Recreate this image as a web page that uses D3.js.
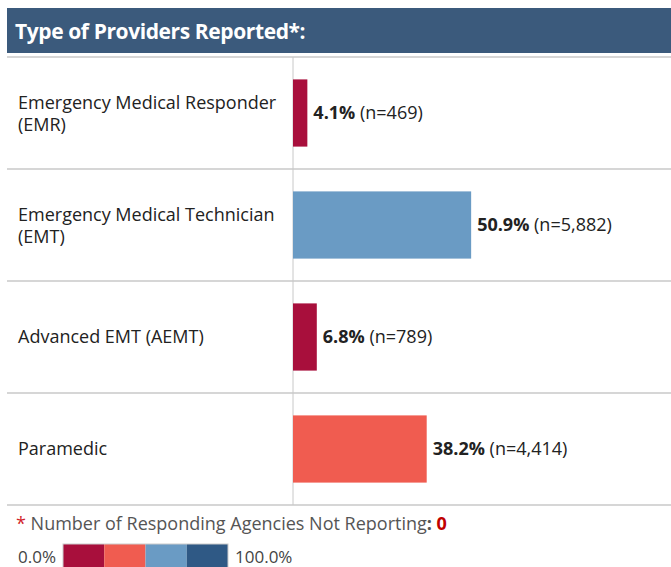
<!DOCTYPE html>
<html>
<head>
<meta charset="utf-8">
<script src="https://cdn.jsdelivr.net/npm/d3@7"></script>
<style>
  body { margin: 0; background: #fff; }
  text { font-family: "Open Sans", "Noto Sans", sans-serif; }
</style>
</head>
<body>
<script>
// data
var categories = ["Emergency Medical Responder (EMR)", "Emergency Medical Technician (EMT)", "Advanced EMT (AEMT)", "Paramedic"];
var labelLines = [["Emergency Medical Responder", "(EMR)"], ["Emergency Medical Technician", "(EMT)"], ["Advanced EMT (AEMT)"], ["Paramedic"]];
var shares = [0.041, 0.509, 0.068, 0.382];
var counts = [469, 5882, 789, 4414];
var barColors = ["#a80f3c", "#6a9bc4", "#a80f3c", "#f05c50"];
var legendColors = ["#a80f3c", "#f05c50", "#6a9bc4", "#2f5985"];
var legendTicks = ["0.0%", "100.0%"];
var notReporting = 0;

var width = 671, height = 567;

var svg = d3.select("body")
            .append("svg")
            .attr("width", width)
            .attr("height", height);

// header
svg.append("rect")
   .attr("x", 7).attr("y", 8)
   .attr("width", width - 7).attr("height", 45)
   .attr("fill", "#3b5a7c");
svg.append("text")
   .attr("x", 15).attr("y", 39)
   .attr("fill", "#fff")
   .style("font-size", "21px")
   .style("font-weight", "bold")
   .style("letter-spacing", "-0.4px")
   .text("Type of Providers Reported*:");

var xScale = d3.scaleLinear()
    .domain([0, 1])
    .range([293, 643]);

var yScale = d3.scaleBand()
    .domain(categories)
    .range([57, 505])
    .paddingInner(0.4)
    .paddingOuter(0.2);

var rowScale = d3.scaleBand()
    .domain(categories)
    .range([57, 505]);

// row separators
var seps = rowScale.domain().map(function(d) { return rowScale(d); }).concat([505]);
svg.append("g")
   .selectAll("line")
   .data(seps)
   .join("line")
   .attr("x1", 7).attr("x2", width)
   .attr("y1", function(d) { return d; })
   .attr("y2", function(d) { return d; })
   .attr("stroke", "#c8c8c8")
   .attr("stroke-width", 1.5);

// axis line
svg.append("line")
   .attr("x1", xScale(0)).attr("x2", xScale(0))
   .attr("y1", 57).attr("y2", 505)
   .attr("stroke", "#c8c8c8")
   .attr("stroke-width", 1);

// bars
svg.append("g")
   .selectAll("rect")
   .data(categories)
   .join("rect")
   .attr("x", xScale(0))
   .attr("y", function(d) { return yScale(d); })
   .attr("width", function(d, i) { return xScale(shares[i]) - xScale(0); })
   .attr("height", yScale.bandwidth())
   .attr("fill", function(d, i) { return barColors[i]; });

// category labels
var cat = svg.append("g")
   .selectAll("text")
   .data(categories)
   .join("text")
   .attr("x", 18)
   .attr("y", function(d, i) {
     var c = rowScale(d) + rowScale.bandwidth() / 2;
     return labelLines[i].length > 1 ? c - 4 : c + 6;
   })
   .attr("fill", "#222")
   .style("font-size", "18px");
cat.each(function(d, i) {
  var t = d3.select(this);
  labelLines[i].forEach(function(l, j) {
    t.append("tspan").attr("x", 18).attr("dy", j === 0 ? 0 : 22).text(l);
  });
});

// value labels
var fmtN = d3.format(",");
var val = svg.append("g")
   .selectAll("text")
   .data(categories)
   .join("text")
   .attr("x", function(d, i) { return xScale(shares[i]) + 6; })
   .attr("y", function(d) { return yScale(d) + yScale.bandwidth() / 2 + 6; })
   .attr("fill", "#222")
   .style("font-size", "18px");
val.append("tspan")
   .style("font-weight", "bold")
   .text(function(d, i) { return (shares[i] * 100).toFixed(1) + "%"; });
val.append("tspan")
   .text(function(d, i) { return " (n=" + fmtN(counts[i]) + ")"; });

// footnote
var note = svg.append("text")
   .attr("x", 16).attr("y", 530)
   .attr("fill", "#555")
   .style("font-size", "18px");
note.append("tspan").attr("fill", "#d21f2b").text("* ");
note.append("tspan").text("Number of Responding Agencies Not Reporting");
note.append("tspan").style("font-weight", "bold").text(": ");
note.append("tspan").attr("fill", "#c00000").style("font-weight", "bold").text(notReporting);

// colour legend
var legScale = d3.scaleBand()
    .domain(d3.range(legendColors.length))
    .range([63, 228]);
svg.append("g")
   .selectAll("rect")
   .data(legendColors)
   .join("rect")
   .attr("x", function(d, i) { return legScale(i); })
   .attr("y", 544)
   .attr("width", legScale.bandwidth())
   .attr("height", 24)
   .attr("fill", function(d) { return d; });
svg.append("rect")
   .attr("x", 63).attr("y", 544)
   .attr("width", 165).attr("height", 24)
   .attr("fill", "none")
   .attr("stroke", "#ccc");
svg.append("text")
   .attr("x", 18).attr("y", 563)
   .attr("fill", "#444")
   .style("font-size", "17px")
   .text(legendTicks[0]);
svg.append("text")
   .attr("x", 235).attr("y", 563)
   .attr("fill", "#444")
   .style("font-size", "17px")
   .text(legendTicks[1]);
</script>
</body>
</html>
